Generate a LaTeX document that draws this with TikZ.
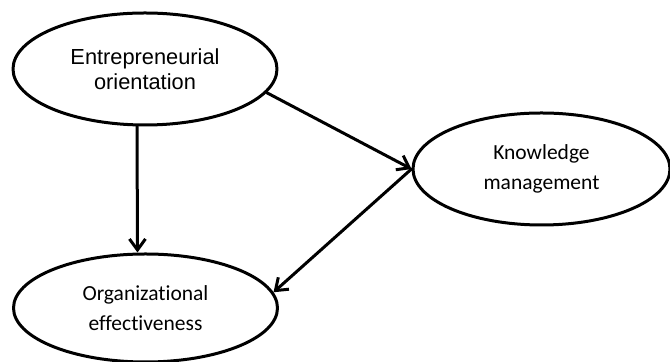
\documentclass[tikz,border=0pt]{standalone}
\usepackage{fontspec}
\setmainfont{Carlito}[Ligatures=NoCommon]
\newfontfamily\arialfont{Liberation Sans}
\usepackage{tikz}
\usetikzlibrary{arrows.meta}
\usetikzlibrary{shapes.geometric}

\tikzset{
  construct/.style={draw, ellipse, line width=1.5pt, inner sep=0pt, align=center,
    minimum width=264pt/2, minimum height=112pt/2},
  link/.style={->, line width=1.5pt}
}

\begin{document}
\begin{tikzpicture}[x=0.5pt, y=-0.5pt, line cap=round, line join=round,
    >={Straight Barb[length=5.5pt, width=8pt]}]
  \useasboundingbox (0, 0) rectangle (670, 362);
  %--- Constructs
    \node[construct, font=\arialfont\fontsize{10.9}{12.5}\selectfont] (eo) at (145, 69)
      {Entrepreneurial\\orientation};
    \node[construct, minimum width=257pt/2, font=\fontsize{10.75}{15}\selectfont] (km) at (541.5, 169)
      {Knowledge\\management};
    \node[construct, minimum height=108pt/2, font=\fontsize{10.75}{15}\selectfont] (oe) at (145.5, 308)
      {Organizational\\effectiveness};
  %--- Paths
    \draw[link] ([xshift=-4pt]eo.south) -- ([xshift=-4pt]oe.north);
    \draw[link] (eo.-11) -- (km.west);
    \draw[link] (km.west) -- (oe.7);
\end{tikzpicture}
\end{document}
